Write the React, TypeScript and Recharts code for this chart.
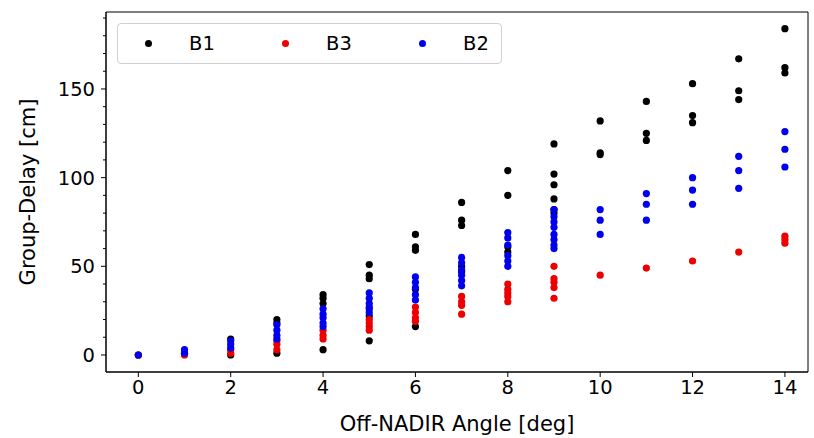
import { ScatterChart, Scatter, XAxis, YAxis, ReferenceArea } from 'recharts';

const angles = [0, 1, 2, 3, 4, 5, 6, 7, 8, 9, 10, 11, 12, 13, 14];

// group delay [cm] per off-nadir angle, one inner list per angle
const b1Delay = [
  [0], [1], [9, 0], [20, 18, 1], [34, 32, 29, 3], [51, 45, 43, 26, 22, 8],
  [68, 61, 59, 37, 16], [86, 76, 73, 50, 47], [104, 90, 61, 58],
  [119, 102, 96, 88, 82, 80], [132, 114, 113], [143, 125, 121],
  [153, 135, 131], [167, 149, 144], [184, 162, 159],
];
const b3Delay = [
  [0], [0], [3, 1], [8, 6, 3], [14, 11, 9], [20, 18, 16, 14],
  [27, 24, 21, 19], [33, 30, 28, 23], [40, 37, 35, 33, 30],
  [50, 43, 41, 38, 32], [45], [49], [53], [58], [67, 65, 63],
];
const b2Delay = [
  [0], [3, 1], [8, 6, 4], [17, 14, 11, 9], [26, 23, 21, 18, 16],
  [35, 32, 29, 27, 24], [44, 41, 38, 34, 31], [55, 52, 48, 45, 42, 39],
  [69, 66, 62, 56, 53, 50], [82, 78, 75, 72, 68, 65, 62, 60],
  [82, 76, 68], [91, 85, 76], [100, 93, 85], [112, 104, 94], [126, 116, 106],
];

const xTicks = [0, 2, 4, 6, 8, 10, 12, 14];
const yMajorTicks = [0, 50, 100, 150];
const yAllTicks = [0, 10, 20, 30, 40, 50, 60, 70, 80, 90, 100, 110, 120, 130, 140, 150, 160, 170, 180, 190];

const series = [
  { name: 'B1', delay: b1Delay, color: '#000000' },
  { name: 'B3', delay: b3Delay, color: '#ee0000' },
  { name: 'B2', delay: b2Delay, color: '#0000ee' },
];

const toPoints = (delay: number[][]) =>
  angles.flatMap((a, i) => delay[i].map((v) => ({ x: a, y: v })));

const X_DOMAIN = [-0.7, 14.5];
const Y_DOMAIN = [-9.6, 193.4];
const FONT = 'DejaVu Sans';

const dot = (color: string) => (props: any) =>
  <circle cx={props.cx} cy={props.cy} r={3.6} fill={color} />;

// y ticks: major get a label and longer mark, minor just a short mark
const YTick = (props: any) => {
  const { x, y, payload } = props;
  const major = yMajorTicks.includes(payload.value);
  return (
    <g>
      <line x1={x - (major ? 5 : 3)} x2={x} y1={y} y2={y} stroke="#000" />
      {major && (
        <text x={x - 11} y={y} dy="0.36em" textAnchor="end" fill="#000" fontSize={19.5} fontFamily={FONT}>
          {payload.value}
        </text>
      )}
    </g>
  );
};

export default function App() {
  return (
    <div style={{ position: 'absolute', left: 0, top: 0, width: 814, height: 438, background: '#fff', fontFamily: FONT }}>
      <ScatterChart width={814} height={438} margin={{ top: 12, right: 6, bottom: 0, left: 0 }}>
        <XAxis
          type="number"
          dataKey="x"
          domain={X_DOMAIN}
          ticks={xTicks}
          allowDataOverflow
          height={66}
          stroke="#000"
          tickSize={5}
          tickMargin={3}
          tick={{ fill: '#000', fontSize: 19.5, fontFamily: FONT }}
          label={{ value: 'Off-NADIR Angle [deg]', position: 'insideBottom', offset: 7, fill: '#000', fontSize: 21, fontFamily: FONT }}
        />
        <YAxis
          type="number"
          dataKey="y"
          domain={Y_DOMAIN}
          ticks={yAllTicks}
          interval={0}
          allowDataOverflow
          width={106}
          stroke="#000"
          tickLine={false}
          tickSize={0}
          tickMargin={0}
          tick={<YTick />}
          label={{ value: 'Group-Delay [cm]', angle: -90, position: 'center', dx: -25, fill: '#000', fontSize: 21, fontFamily: FONT }}
        />
        <ReferenceArea x1={X_DOMAIN[0]} x2={X_DOMAIN[1]} y1={Y_DOMAIN[0]} y2={Y_DOMAIN[1]} fill="none" stroke="#000" strokeOpacity={1} />
        {series.map((s) => (
          <Scatter
            key={s.name}
            name={s.name}
            data={toPoints(s.delay)}
            fill={s.color}
            shape={dot(s.color)}
            isAnimationActive={false}
          />
        ))}
      </ScatterChart>
      <div
        style={{
          position: 'absolute', left: 117, top: 23, width: 383, height: 39,
          border: '1px solid #d0d0d0', borderRadius: 4, background: 'rgba(255,255,255,0.8)',
        }}
      >
        {series.map((s, i) => (
          <div key={s.name} style={{ position: 'absolute', left: 27 + i * 137, top: 0, height: 39, display: 'flex', alignItems: 'center' }}>
            <span style={{ width: 7, height: 7, borderRadius: '50%', background: s.color, display: 'inline-block' }} />
            <span style={{ marginLeft: 37, fontSize: 19.5, color: '#000', fontFamily: FONT }}>{s.name}</span>
          </div>
        ))}
      </div>
    </div>
  );
}
